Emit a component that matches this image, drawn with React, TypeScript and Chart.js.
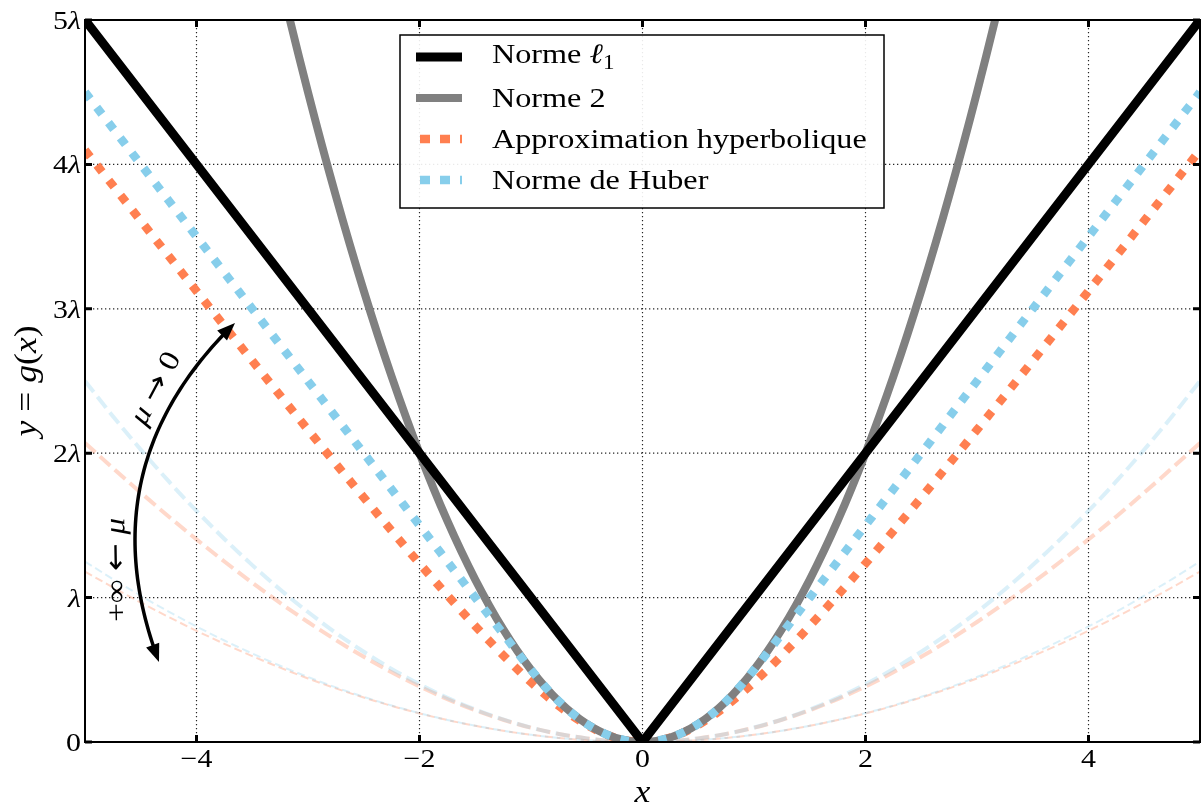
import React, { useEffect, useRef } from 'react';
import { Chart, registerables } from 'chart.js';

Chart.register(...registerables);

const SERIF = '"Liberation Serif", "DejaVu Serif", "Times New Roman", serif';
const ARROWFONT = '"DejaVu Sans", "Liberation Serif", sans-serif';
const SX = 1.15;

// shared abscissae for the smooth curves
const xs = [
  -5, -4.75, -4.5, -4.25, -4, -3.75, -3.5, -3.25, -3, -2.75, -2.5, -2.25, -2, -1.75, -1.5, -1.25, -1, -0.75, -0.5, -0.25,
  0, 0.25, 0.5, 0.75, 1, 1.25, 1.5, 1.75, 2, 2.25, 2.5, 2.75, 3, 3.25, 3.5, 3.75, 4, 4.25, 4.5, 4.75, 5,
];

// Norme l1
const l1X = [-5, 0, 5];
const l1Y = [5, 0, 5];

// Norme 2
const norm2X = [
  -3.5, -3.25, -3, -2.75, -2.5, -2.25, -2, -1.75, -1.5, -1.25, -1, -0.75, -0.5, -0.25, 0, 0.25, 0.5, 0.75, 1, 1.25,
  1.5, 1.75, 2, 2.25, 2.5, 2.75, 3, 3.25, 3.5,
];
const norm2Y = [
  6.125, 5.281, 4.5, 3.781, 3.125, 2.531, 2, 1.531, 1.125, 0.781, 0.5, 0.281, 0.125, 0.031, 0, 0.031, 0.125, 0.281,
  0.5, 0.781, 1.125, 1.531, 2, 2.531, 3.125, 3.781, 4.5, 5.281, 6.125,
];

// Approximation hyperbolique (mu = 1)
const hyp1 = [
  4.099, 3.854, 3.61, 3.366, 3.123, 2.881, 2.64, 2.4, 2.162, 1.926, 1.693, 1.462, 1.236, 1.016, 0.803, 0.601, 0.414,
  0.25, 0.118, 0.031, 0, 0.031, 0.118, 0.25, 0.414, 0.601, 0.803, 1.016, 1.236, 1.462, 1.693, 1.926, 2.162, 2.4, 2.64,
  2.881, 3.123, 3.366, 3.61, 3.854, 4.099,
];
// Norme de Huber (mu = 1)
const huber1 = [
  4.5, 4.25, 4, 3.75, 3.5, 3.25, 3, 2.75, 2.5, 2.25, 2, 1.75, 1.5, 1.25, 1, 0.75, 0.5, 0.281, 0.125, 0.031, 0, 0.031,
  0.125, 0.281, 0.5, 0.75, 1, 1.25, 1.5, 1.75, 2, 2.25, 2.5, 2.75, 3, 3.25, 3.5, 3.75, 4, 4.25, 4.5,
];
// faint curves, mu = 5
const hyp5 = [
  2.071, 1.897, 1.727, 1.562, 1.403, 1.25, 1.103, 0.963, 0.831, 0.706, 0.59, 0.483, 0.385, 0.297, 0.22, 0.154, 0.099,
  0.056, 0.025, 0.006, 0, 0.006, 0.025, 0.056, 0.099, 0.154, 0.22, 0.297, 0.385, 0.483, 0.59, 0.706, 0.831, 0.963,
  1.103, 1.25, 1.403, 1.562, 1.727, 1.897, 2.071,
];
const huber5 = [
  2.5, 2.256, 2.025, 1.806, 1.6, 1.406, 1.225, 1.056, 0.9, 0.756, 0.625, 0.506, 0.4, 0.306, 0.225, 0.156, 0.1, 0.056,
  0.025, 0.006, 0, 0.006, 0.025, 0.056, 0.1, 0.156, 0.225, 0.306, 0.4, 0.506, 0.625, 0.756, 0.9, 1.056, 1.225, 1.406,
  1.6, 1.806, 2.025, 2.256, 2.5,
];
// faint curves, mu = 10
const hyp10 = [
  1.18, 1.071, 0.966, 0.866, 0.77, 0.68, 0.595, 0.515, 0.44, 0.371, 0.308, 0.25, 0.198, 0.152, 0.112, 0.078, 0.05,
  0.028, 0.012, 0.003, 0, 0.003, 0.012, 0.028, 0.05, 0.078, 0.112, 0.152, 0.198, 0.25, 0.308, 0.371, 0.44, 0.515,
  0.595, 0.68, 0.77, 0.866, 0.966, 1.071, 1.18,
];
const huber10 = [
  1.25, 1.128, 1.013, 0.903, 0.8, 0.703, 0.613, 0.528, 0.45, 0.378, 0.313, 0.253, 0.2, 0.153, 0.113, 0.078, 0.05,
  0.028, 0.013, 0.003, 0, 0.003, 0.013, 0.028, 0.05, 0.078, 0.113, 0.153, 0.2, 0.253, 0.313, 0.378, 0.45, 0.528,
  0.613, 0.703, 0.8, 0.903, 1.013, 1.128, 1.25,
];

const xTicks = [-4, -2, 0, 2, 4];
const xTickLabels = ['\u22124', '\u22122', '0', '2', '4'];
const yTicks = [0, 1, 2, 3, 4, 5];
const yTickLabels = ['0', '\u03bb', '2\u03bb', '3\u03bb', '4\u03bb', '5\u03bb'];

type Seg = { t: string; it?: boolean; sub?: boolean; arrow?: boolean };

const legendLabels: Seg[][] = [
  [{ t: 'Norme ' }, { t: '\u2113', it: true }, { t: '1', sub: true }],
  [{ t: 'Norme 2' }],
  [{ t: 'Approximation hyperbolique' }],
  [{ t: 'Norme de Huber' }],
];

const C_BLACK = '#000000';
const C_GRAY = '#808080';
const C_CORAL = '#FF7F50';
const C_SKY = '#87CEEB';
const C_CORAL_FAINT = 'rgba(255,127,80,0.3)';
const C_SKY_FAINT = 'rgba(135,206,235,0.3)';
const DOTS = [8.5, 10.7];

function fontOf(seg: Seg, size: number) {
  const s = seg.sub ? Math.round(size * 0.7) : size;
  if (seg.arrow) return `${s}px ${ARROWFONT}`;
  return `${seg.it ? 'italic ' : ''}${s}px ${SERIF}`;
}

function drawRich(
  ctx: CanvasRenderingContext2D,
  segs: Seg[],
  x: number,
  y: number,
  size: number,
  align: 'left' | 'center' | 'right',
  rot = 0,
  dy = 0,
) {
  ctx.save();
  ctx.translate(x, y);
  if (rot) ctx.rotate(rot);
  ctx.scale(SX, 1);
  const widths = segs.map((s) => {
    ctx.font = fontOf(s, size);
    return ctx.measureText(s.t).width;
  });
  const total = widths.reduce((a, b) => a + b, 0);
  let cx = align === 'left' ? 0 : align === 'center' ? -total / 2 : -total;
  ctx.fillStyle = '#000';
  ctx.textAlign = 'left';
  ctx.textBaseline = 'alphabetic';
  segs.forEach((s, i) => {
    ctx.font = fontOf(s, size);
    ctx.fillText(s.t, cx, dy + (s.sub ? size * 0.22 : 0));
    cx += widths[i];
  });
  ctx.restore();
}

function tickSegs(label: string): Seg[] {
  if (label.endsWith('\u03bb')) {
    const pre = label.slice(0, -1);
    const out: Seg[] = [];
    if (pre) out.push({ t: pre });
    out.push({ t: '\u03bb', it: true });
    return out;
  }
  return [{ t: label }];
}

function arrowHead(ctx: CanvasRenderingContext2D, tx: number, ty: number, dx: number, dy: number, len: number, half: number) {
  const d = Math.hypot(dx, dy);
  const ux = dx / d;
  const uy = dy / d;
  const bx = tx - ux * len;
  const by = ty - uy * len;
  ctx.beginPath();
  ctx.moveTo(tx, ty);
  ctx.lineTo(bx - uy * half, by + ux * half);
  ctx.lineTo(bx + uy * half, by - ux * half);
  ctx.closePath();
  ctx.fill();
}

const decor = {
  id: 'decor',
  beforeDatasetsDraw(chart: any) {
    const { ctx, chartArea: a, scales } = chart;
    const sx = scales.x;
    const sy = scales.y;
    ctx.save();
    ctx.strokeStyle = 'rgba(0,0,0,0.85)';
    ctx.lineWidth = 1.2;
    ctx.setLineDash([1.3, 2.7]);
    xTicks.forEach((v) => {
      const px = sx.getPixelForValue(v);
      ctx.beginPath();
      ctx.moveTo(px, a.top);
      ctx.lineTo(px, a.bottom);
      ctx.stroke();
    });
    yTicks.forEach((v) => {
      const py = sy.getPixelForValue(v);
      ctx.beginPath();
      ctx.moveTo(a.left, py);
      ctx.lineTo(a.right, py);
      ctx.stroke();
    });
    ctx.restore();
  },
  afterDraw(chart: any) {
    const { ctx, chartArea: a, scales } = chart;
    const sx = scales.x;
    const sy = scales.y;
    ctx.save();
    // frame
    ctx.strokeStyle = '#000';
    ctx.lineWidth = 2;
    ctx.setLineDash([]);
    ctx.strokeRect(a.left, a.top, a.right - a.left, a.bottom - a.top);
    // inward ticks
    ctx.lineWidth = 3;
    const TL = 7;
    xTicks.forEach((v) => {
      const px = sx.getPixelForValue(v);
      ctx.beginPath();
      ctx.moveTo(px, a.bottom);
      ctx.lineTo(px, a.bottom - TL);
      ctx.moveTo(px, a.top);
      ctx.lineTo(px, a.top + TL);
      ctx.stroke();
    });
    yTicks.forEach((v) => {
      const py = sy.getPixelForValue(v);
      ctx.beginPath();
      ctx.moveTo(a.left, py);
      ctx.lineTo(a.left + TL, py);
      ctx.moveTo(a.right, py);
      ctx.lineTo(a.right - TL, py);
      ctx.stroke();
    });
    // tick labels
    xTicks.forEach((v, i) => {
      drawRich(ctx, [{ t: xTickLabels[i] }], sx.getPixelForValue(v), a.bottom + 25, 26, 'center');
    });
    yTicks.forEach((v, i) => {
      drawRich(ctx, tickSegs(yTickLabels[i]), a.left - 4, sy.getPixelForValue(v) + 9, 26, 'right');
    });
    // axis labels
    drawRich(ctx, [{ t: 'x', it: true }], (a.left + a.right) / 2, 802, 31, 'center');
    drawRich(
      ctx,
      [{ t: 'y', it: true }, { t: ' = ' }, { t: 'g', it: true }, { t: '(' }, { t: 'x', it: true }, { t: ')' }],
      36,
      381,
      31,
      'center',
      -Math.PI / 2,
    );

    // legend
    const lx = 400, ly = 35, lw = 484, lh = 173;
    ctx.fillStyle = 'rgba(255,255,255,0.9)';
    ctx.fillRect(lx, ly, lw, lh);
    ctx.strokeStyle = '#000';
    ctx.lineWidth = 1.5;
    ctx.strokeRect(lx, ly, lw, lh);
    const rowCenters = [57, 98, 139, 180];
    const rowBase = [63, 107, 148, 189];
    const styles = [
      { c: C_BLACK, w: 9, d: [] as number[], x0: 416 },
      { c: C_GRAY, w: 8, d: [] as number[], x0: 416 },
      { c: C_CORAL, w: 8.5, d: [10, 10], x0: 420 },
      { c: C_SKY, w: 8.5, d: [10, 10], x0: 420 },
    ];
    styles.forEach((st, i) => {
      ctx.strokeStyle = st.c;
      ctx.lineWidth = st.w;
      ctx.lineCap = 'butt';
      ctx.setLineDash(st.d);
      ctx.beginPath();
      ctx.moveTo(st.x0, rowCenters[i]);
      ctx.lineTo(462, rowCenters[i]);
      ctx.stroke();
      ctx.setLineDash([]);
      drawRich(ctx, legendLabels[i], 492, rowBase[i], 28, 'left');
    });

    // curved double arrow annotation
    const P0 = { x: 159, y: 662 };
    const C = { x: 86, y: 468 };
    const P2 = { x: 235, y: 323 };
    const q = (t: number) => ({
      x: (1 - t) * (1 - t) * P0.x + 2 * (1 - t) * t * C.x + t * t * P2.x,
      y: (1 - t) * (1 - t) * P0.y + 2 * (1 - t) * t * C.y + t * t * P2.y,
    });
    ctx.strokeStyle = '#000';
    ctx.fillStyle = '#000';
    ctx.lineWidth = 3.5;
    ctx.beginPath();
    for (let k = 0; k <= 60; k++) {
      const t = 0.035 + (0.93 * k) / 60;
      const p = q(t);
      if (k === 0) ctx.moveTo(p.x, p.y);
      else ctx.lineTo(p.x, p.y);
    }
    ctx.stroke();
    arrowHead(ctx, P2.x, P2.y, P2.x - C.x, P2.y - C.y, 18, 7);
    arrowHead(ctx, P0.x, P0.y, P0.x - C.x, P0.y - C.y, 18, 7);

    drawRich(
      ctx,
      [{ t: '\u03bc ', it: true }, { t: '\u2192', arrow: true }, { t: ' 0' }],
      155,
      388,
      29,
      'center',
      (-62 * Math.PI) / 180,
      9,
    );
    drawRich(
      ctx,
      [{ t: '+\u221e ' }, { t: '\u2190', arrow: true }, { t: ' ' }, { t: '\u03bc', it: true }],
      116,
      570,
      29,
      'center',
      (-91 * Math.PI) / 180,
      9,
    );
    ctx.restore();
  },
};

const mk = (X: number[], Y: number[]) => X.map((x, i) => ({ x, y: Y[i] }));

export default function App() {
  const ref = useRef<HTMLCanvasElement | null>(null);
  useEffect(() => {
    document.body.style.margin = '0';
    if (!ref.current) return;
    const base = {
      showLine: true,
      pointRadius: 0,
      pointHoverRadius: 0,
      clip: 0,
      borderCapStyle: 'butt' as const,
      fill: false,
    };
    const chart = new Chart(ref.current, {
      type: 'scatter',
      data: {
        datasets: [
          { ...base, label: 'Norme l1', data: mk(l1X, l1Y), borderColor: C_BLACK, borderWidth: 9, tension: 0, borderJoinStyle: 'miter', order: 0 },
          { ...base, label: 'Norme de Huber', data: mk(xs, huber1), borderColor: C_SKY, borderWidth: 8.5, borderDash: DOTS, cubicInterpolationMode: 'monotone', order: 1 },
          { ...base, label: 'Norme 2', data: mk(norm2X, norm2Y), borderColor: C_GRAY, borderWidth: 8, cubicInterpolationMode: 'monotone', order: 2 },
          { ...base, label: 'Approximation hyperbolique', data: mk(xs, hyp1), borderColor: C_CORAL, borderWidth: 8.5, borderDash: DOTS, cubicInterpolationMode: 'monotone', order: 3 },
          { ...base, label: 'Huber mu=5', data: mk(xs, huber5), borderColor: C_SKY_FAINT, borderWidth: 4, borderDash: [14, 6], cubicInterpolationMode: 'monotone', order: 4 },
          { ...base, label: 'Hyp mu=5', data: mk(xs, hyp5), borderColor: C_CORAL_FAINT, borderWidth: 4, borderDash: [14, 6], cubicInterpolationMode: 'monotone', order: 5 },
          { ...base, label: 'Huber mu=10', data: mk(xs, huber10), borderColor: C_SKY_FAINT, borderWidth: 2, borderDash: [8, 4], cubicInterpolationMode: 'monotone', order: 6 },
          { ...base, label: 'Hyp mu=10', data: mk(xs, hyp10), borderColor: C_CORAL_FAINT, borderWidth: 2, borderDash: [8, 4], cubicInterpolationMode: 'monotone', order: 7 },
        ] as any,
      },
      options: {
        animation: false,
        responsive: false,
        devicePixelRatio: 1,
        layout: { padding: { left: 85, right: 2, top: 20, bottom: 64 } },
        scales: {
          x: { type: 'linear', min: -5, max: 5, display: false },
          y: { type: 'linear', min: 0, max: 5, display: false },
        },
        plugins: {
          legend: { display: false },
          tooltip: { enabled: false },
        },
        events: [],
      },
      plugins: [decor],
    });
    return () => chart.destroy();
  }, []);
  return <canvas ref={ref} width={1202} height={806} style={{ display: 'block' }} />;
}
